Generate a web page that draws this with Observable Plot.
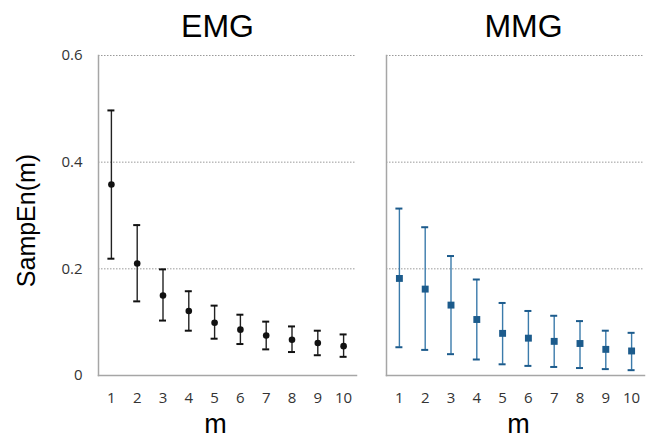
<!DOCTYPE html>
<html>
<head>
<meta charset="utf-8">
<script src="https://cdn.jsdelivr.net/npm/d3@7"></script>
<script src="https://cdn.jsdelivr.net/npm/@observablehq/plot@0.6"></script>
<style>
  html, body { margin: 0; padding: 0; background: #fff; }
  #wrap { position: relative; width: 648px; height: 439px; background: #fff; overflow: hidden; }
  #left, #right { position: absolute; top: 0; }
  #left { left: 0; }
  #right { left: 360px; }
</style>
</head>
<body>
<div id="wrap"><div id="left"></div><div id="right"></div></div>
<script>
// Data
const mValues = [1, 2, 3, 4, 5, 6, 7, 8, 9, 10];
const yTicks = [0, 0.2, 0.4, 0.6];

const emgMean = [0.358, 0.210, 0.150, 0.121, 0.099, 0.086, 0.075, 0.067, 0.061, 0.055];
const emgHigh = [0.497, 0.282, 0.199, 0.158, 0.131, 0.114, 0.101, 0.092, 0.084, 0.077];
const emgLow  = [0.219, 0.139, 0.103, 0.084, 0.069, 0.059, 0.049, 0.044, 0.038, 0.035];

const mmgMean = [0.182, 0.162, 0.132, 0.105, 0.079, 0.070, 0.064, 0.060, 0.049, 0.046];
const mmgHigh = [0.313, 0.278, 0.224, 0.180, 0.136, 0.121, 0.112, 0.102, 0.084, 0.080];
const mmgLow  = [0.053, 0.048, 0.040, 0.030, 0.021, 0.018, 0.016, 0.014, 0.012, 0.010];

const panelTitles = ["EMG", "MMG"];
const yLabel = "SampEn(m)";
const xLabel = "m";

const emgRows = mValues.map((m, i) => ({m, mean: emgMean[i], lo: emgLow[i], hi: emgHigh[i]}));
const mmgRows = mValues.map((m, i) => ({m, mean: mmgMean[i], lo: mmgLow[i], hi: mmgHigh[i]}));

const tickFont = "'Open Sans', 'DejaVu Sans', sans-serif";
const titleFont = "'Liberation Sans', Arial, sans-serif";
const axisGray = "#a6a6a6";
const tickColor = "#333";

function panel({rows, title, showY, marginLeft, marginRight, width, color, lineColor, symbol, r, titleDx, labelDx, extras}) {
  return Plot.plot({
    width, height: 439,
    marginTop: 55, marginBottom: 64, marginLeft, marginRight,
    style: {fontFamily: tickFont, background: "transparent"},
    x: {type: "band", domain: mValues, padding: 0, round: false, label: null, axis: null},
    y: {domain: [0, 0.6], label: null, axis: null},
    marks: [
      Plot.ruleY(yTicks.filter(d => d > 0), {stroke: "#9a9a9a", strokeDasharray: "1.5,1.5", strokeWidth: 1}),
      Plot.frame({anchor: "left", stroke: axisGray, strokeWidth: 1.5}),
      Plot.frame({anchor: "bottom", stroke: axisGray, strokeWidth: 1.5}),
      Plot.axisX({tickSize: 0, tickPadding: 17, label: null, fontSize: 15, fill: tickColor}),
      ...(showY ? [Plot.axisY({ticks: yTicks, tickSize: 0, tickPadding: 16, label: null, fontSize: 15,
        fill: tickColor, tickFormat: d => d === 0 ? "0" : d.toFixed(1)})] : []),
      ...(extras || []),
      Plot.ruleX(rows, {x: "m", y1: "lo", y2: "hi", stroke: lineColor, strokeWidth: 1.4}),
      Plot.tickY(rows, {x: "m", y: "hi", stroke: color, strokeWidth: 2, insetLeft: 9.4, insetRight: 9.4}),
      Plot.tickY(rows, {x: "m", y: "lo", stroke: color, strokeWidth: 2, insetLeft: 9.4, insetRight: 9.4}),
      Plot.dot(rows, {x: "m", y: "mean", fill: color, stroke: null, r, symbol}),
      Plot.text([title], {frameAnchor: "top", lineAnchor: "bottom", dy: -19, dx: titleDx,
        fontSize: 32, fontFamily: titleFont, fill: "#000"}),
      Plot.text([xLabel], {frameAnchor: "bottom", lineAnchor: "bottom", dy: 57, dx: labelDx,
        fontSize: 27, fontFamily: titleFont, fill: "#000"}),
      ...(showY ? [Plot.text([yLabel], {frameAnchor: "left", textAnchor: "middle", lineAnchor: "middle",
        rotate: -90, dx: -72, dy: 5, fontSize: 25, fontFamily: titleFont, fill: "#000"})] : [])
    ]
  });
}

const left = panel({
  rows: emgRows, title: panelTitles[0], showY: true,
  width: 360, marginLeft: 98, marginRight: 4,
  color: "#111", lineColor: "#222", symbol: "circle", r: 3.3,
  titleDx: -10, labelDx: -12
});

const faint = Plot.ruleX(yTicks, {y1: d => d, y2: d => d, insetTop: -2, insetBottom: -2,
  dx: -146, stroke: "#86c2ea", strokeWidth: 2});

const right = panel({
  rows: mmgRows, title: panelTitles[1], showY: false,
  width: 288, marginLeft: 26, marginRight: 4,
  color: "#1c5b8c", lineColor: "#3b7bab", symbol: "square", r: 3.9,
  titleDx: 8, labelDx: 3, extras: [faint]
});

document.getElementById("left").appendChild(left);
document.getElementById("right").appendChild(right);
</script>
</body>
</html>
